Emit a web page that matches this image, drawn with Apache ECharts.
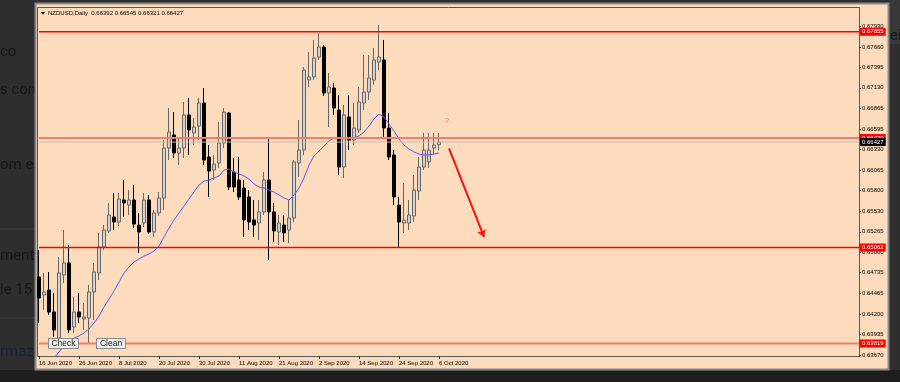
<!DOCTYPE html>
<html><head><meta charset="utf-8">
<script src="https://cdn.jsdelivr.net/npm/echarts@6/dist/echarts.min.js"></script>
<style>html,body{margin:0;padding:0;background:#2e2e2e;}#c{width:900px;height:382px;}</style>
</head><body><div id="c"></div>
<script>
const categories = [
"16 Jun 2020","17 Jun 2020","18 Jun 2020","19 Jun 2020","22 Jun 2020","23 Jun 2020","24 Jun 2020","25 Jun 2020","26 Jun 2020","29 Jun 2020","30 Jun 2020",
"1 Jul 2020","2 Jul 2020","3 Jul 2020","6 Jul 2020","7 Jul 2020","8 Jul 2020","9 Jul 2020","10 Jul 2020","13 Jul 2020","14 Jul 2020","15 Jul 2020","16 Jul 2020","17 Jul 2020","20 Jul 2020","21 Jul 2020","22 Jul 2020","23 Jul 2020","24 Jul 2020","27 Jul 2020","28 Jul 2020","29 Jul 2020","30 Jul 2020","31 Jul 2020",
"3 Aug 2020","4 Aug 2020","5 Aug 2020","6 Aug 2020","7 Aug 2020","10 Aug 2020","11 Aug 2020","12 Aug 2020","13 Aug 2020","14 Aug 2020","17 Aug 2020","18 Aug 2020","19 Aug 2020","20 Aug 2020","21 Aug 2020","24 Aug 2020","25 Aug 2020","26 Aug 2020","27 Aug 2020","28 Aug 2020","31 Aug 2020",
"1 Sep 2020","2 Sep 2020","3 Sep 2020","4 Sep 2020","7 Sep 2020","8 Sep 2020","9 Sep 2020","10 Sep 2020","11 Sep 2020","14 Sep 2020","15 Sep 2020","16 Sep 2020","17 Sep 2020","18 Sep 2020","21 Sep 2020","22 Sep 2020","23 Sep 2020","24 Sep 2020","25 Sep 2020","28 Sep 2020","29 Sep 2020","30 Sep 2020",
"1 Oct 2020","2 Oct 2020","5 Oct 2020","6 Oct 2020"];

const openV = [
0.64680,0.64447,0.64512,0.64227,0.63890,0.64706,0.64861,0.64033,0.64227,0.64136,
0.64149,0.64486,0.64732,0.65068,0.65276,0.65457,0.65392,0.65677,0.65612,0.65677,
0.65353,0.65379,0.65677,0.65263,0.65509,0.65703,0.66350,0.66519,0.66285,0.66350,
0.66778,0.66544,0.66635,0.66933,0.66234,0.66065,0.66156,0.66415,0.66803,0.66039,
0.65936,0.65832,0.65716,0.65418,0.65379,0.65522,0.65936,0.65522,0.65263,0.65353,
0.65289,0.65444,0.66156,0.66324,0.67231,0.67270,0.67528,0.67658,0.67062,0.67127,
0.66842,0.66104,0.66752,0.66454,0.66583,0.66933,0.67075,0.67231,0.67464,0.67490,
0.66609,0.66260,0.65612,0.65379,0.65379,0.65470,0.65793,0.66104,0.66169,0.66350,
0.66392];
const closeV = [
0.64408,0.64486,0.64227,0.63994,0.64732,0.64861,0.63994,0.64227,0.64162,0.64162,
0.64486,0.64745,0.65068,0.65289,0.65483,0.65392,0.65690,0.65638,0.65677,0.65366,
0.65263,0.65677,0.65263,0.65509,0.65703,0.66350,0.66557,0.66285,0.66350,0.66778,
0.66583,0.66622,0.66933,0.66195,0.66052,0.66143,0.66415,0.66816,0.65845,0.65845,
0.65716,0.65418,0.65392,0.65353,0.65522,0.65936,0.65522,0.65276,0.65379,0.65250,
0.65444,0.66169,0.66324,0.67360,0.67270,0.67516,0.67658,0.67062,0.67140,0.66868,
0.66104,0.66778,0.66454,0.66609,0.66946,0.67075,0.67257,0.67490,0.67528,0.66609,
0.66234,0.65716,0.65392,0.65418,0.65483,0.65806,0.66104,0.66324,0.66324,0.66389,
0.66427];
const highV = [
0.65030,0.64732,0.64745,0.64473,0.64939,0.65289,0.65094,0.64421,0.64473,0.64343,
0.64576,0.64861,0.65250,0.65353,0.65638,0.65768,0.65768,0.65936,0.65806,0.65871,
0.65509,0.65768,0.65742,0.65547,0.65781,0.66454,0.66868,0.66816,0.66493,0.66946,
0.66998,0.66739,0.66998,0.67127,0.66389,0.66260,0.66687,0.66868,0.66816,0.66221,
0.66234,0.65936,0.65806,0.65677,0.65677,0.66039,0.66467,0.65638,0.65483,0.65483,
0.65677,0.66195,0.66713,0.67399,0.67593,0.67749,0.67839,0.67684,0.67321,0.67192,
0.67036,0.66907,0.67036,0.66933,0.67140,0.67554,0.67554,0.67645,0.67943,0.67749,
0.66803,0.66324,0.65716,0.65897,0.65677,0.66001,0.66234,0.66544,0.66544,0.66544,
0.66545];
const lowV = [
0.64084,0.64253,0.64188,0.63903,0.63825,0.64602,0.63955,0.63955,0.64084,0.63994,
0.63825,0.64123,0.64641,0.65030,0.65250,0.65289,0.65340,0.65457,0.65483,0.65314,
0.64991,0.65327,0.65237,0.65198,0.65470,0.65547,0.66195,0.66221,0.66130,0.66221,
0.66260,0.66389,0.66454,0.66130,0.65716,0.65936,0.66091,0.66350,0.65806,0.65781,
0.65677,0.65198,0.65289,0.65198,0.65159,0.65483,0.64900,0.65133,0.65094,0.65133,
0.65120,0.65392,0.65975,0.66260,0.67140,0.67231,0.67490,0.67024,0.66622,0.66778,
0.66001,0.65962,0.66324,0.66389,0.66544,0.66842,0.66972,0.67166,0.67360,0.66480,
0.66195,0.65612,0.65065,0.65250,0.65289,0.65392,0.65677,0.66065,0.66091,0.66260,
0.66321];
const maV = [
null,null,null,0.63631,0.63709,0.63787,0.63851,0.63890,0.63916,0.63955,
0.64007,0.64084,0.64175,0.64292,0.64395,0.64499,0.64615,0.64732,0.64809,0.64874,
0.64913,0.64952,0.64978,0.65017,0.65081,0.65198,0.65314,0.65418,0.65509,0.65599,
0.65690,0.65781,0.65871,0.65923,0.65936,0.65962,0.65988,0.66065,0.66078,0.66039,
0.66014,0.65988,0.65949,0.65884,0.65845,0.65832,0.65806,0.65781,0.65742,0.65703,
0.65677,0.65742,0.65832,0.65962,0.66130,0.66247,0.66311,0.66376,0.66441,0.66480,
0.66480,0.66480,0.66480,0.66480,0.66506,0.66557,0.66635,0.66726,0.66790,0.66752,
0.66661,0.66570,0.66467,0.66389,0.66337,0.66298,0.66273,0.66260,0.66260,0.66273,
0.66285];
const priceTicks = ["0.63670","0.63935","0.64200","0.64465","0.64735","0.65000","0.65265","0.65530","0.65800","0.66065","0.66330","0.66595","0.66865","0.67130","0.67395","0.67660","0.67930"];
const dateTicks = ["16 Jun 2020","26 Jun 2020","8 Jul 2020","20 Jul 2020","30 Jul 2020","11 Aug 2020","21 Aug 2020","2 Sep 2020","14 Sep 2020","24 Sep 2020","6 Oct 2020"];
const redLevels = [0.67855, 0.65062];
const salmonLevels = [0.66479, 0.63819];
const bidPrice = 0.66427;
const titleText = "NZDUSD,Daily  0.66392 0.66545 0.66321 0.66427";
const arrowFrom = [82, 0.66346];
const arrowTo = [89, 0.65198];
const questionAt = [82, 0.66700];
const futureSlots = 84;

const allCats = categories.concat(new Array(futureSlots).fill(''));
const lastIdx = allCats.length - 1;
const candleData = openV.map((o, i) => [o, closeV[i], lowV[i], highV[i]]);
const tickVals = priceTicks.map(Number);
const font = 'Liberation Sans';

function levelSeries(value, color, width, labelBg, z) {
  return {
    type: 'line', data: [[0, value], [lastIdx, value]], z: z, silent: true, clip: false,
    showSymbol: false, symbol: 'none',
    lineStyle: { color: color, width: width, type: 'solid', opacity: 1 },
    itemStyle: { color: color },
    endLabel: { show: true, distance: 1, formatter: p => Number(p.value[1]).toFixed(5),
      backgroundColor: labelBg, color: '#ffffff', fontSize: 6, fontFamily: font, padding: [1, 2, 1, 2] }
  };
}
const levelSeriesList = [];
redLevels.forEach(v => levelSeriesList.push(levelSeries(v, '#ff0000', 1.5, '#ff0000', 4)));
salmonLevels.forEach(v => levelSeriesList.push(levelSeries(v, '#f47c6c', 2, '#ff0000', 4)));
levelSeriesList.push(levelSeries(bidPrice, '#c4c0b8', 1, '#000000', 5));

const chart = echarts.init(document.getElementById('c'), null, { renderer: 'canvas' });
chart.setOption({
  animation: false,
  backgroundColor: '#2e2e2e',
  grid: { left: 39, right: 41, top: 8, bottom: 26, containLabel: false },
  xAxis: {
    type: 'category', data: allCats, boundaryGap: false,
    axisLine: { show: true, onZero: false, lineStyle: { color: '#5a5a50', width: 1 } },
    axisTick: { show: true, length: 3, interval: (i, v) => dateTicks.includes(v), lineStyle: { color: '#333' } },
    axisLabel: { show: true, interval: (i, v) => dateTicks.includes(v), align: 'left', margin: 4,
      fontSize: 6, fontFamily: font, color: '#000' },
    splitLine: { show: false }
  },
  yAxis: {
    type: 'value', position: 'right', min: 0.63657, max: 0.68163, scale: true,
    axisLine: { show: true, onZero: false, lineStyle: { color: '#5a5a50', width: 1 } },
    axisTick: { show: true, length: 2, customValues: tickVals, lineStyle: { color: '#333' } },
    axisLabel: { show: true, customValues: tickVals, margin: 3, fontSize: 6, fontFamily: font, color: '#000',
      formatter: v => priceTicks.find(t => Math.abs(+t - v) < 1e-7) || v.toFixed(5) },
    splitLine: { show: false }
  },
  graphic: [
    { type: 'rect', shape: { x: 0, y: 370, width: 900, height: 12 }, style: { fill: '#1e1e1e' }, z: -5 },
    { type: 'rect', shape: { x: 889, y: 0, width: 11, height: 44 }, style: { fill: '#383838' }, z: -5 },
    { type: 'line', shape: { x1: 0, y1: 229, x2: 36, y2: 229 }, style: { stroke: '#3c3c3c', lineWidth: 1 }, z: -4 },
    { type: 'line', shape: { x1: 0, y1: 318, x2: 36, y2: 318 }, style: { stroke: '#3c3c3c', lineWidth: 1 }, z: -4 },
    { type: 'text', x: 0, y: 52, style: { text: 'co', fill: '#151515', font: '15px Roboto', verticalAlign: 'middle' }, z: -3 },
    { type: 'text', x: 0, y: 90, style: { text: 's comi', fill: '#151515', font: '15px Roboto', verticalAlign: 'middle' }, z: -3 },
    { type: 'text', x: 0, y: 165, style: { text: 'om est', fill: '#151515', font: '15px Roboto', verticalAlign: 'middle' }, z: -3 },
    { type: 'text', x: 0, y: 256, style: { text: 'mento', fill: '#151515', font: '15px Roboto', verticalAlign: 'middle' }, z: -3 },
    { type: 'text', x: 0, y: 290, style: { text: 'le 15 G', fill: '#151515', font: '15px Roboto', verticalAlign: 'middle' }, z: -3 },
    { type: 'text', x: 0, y: 352, style: { text: 'rmazé', fill: '#16203a', font: '15px Roboto', verticalAlign: 'middle' }, z: -3 },
    { type: 'text', x: 890, y: 36, style: { text: 'ei', fill: '#151515', font: '15px Roboto', verticalAlign: 'middle' }, z: -3 },
    { type: 'rect', shape: { x: 35.5, y: 3.5, width: 853, height: 366 }, style: { fill: '#fddcbd', stroke: '#8a8a8a', lineWidth: 2 }, z: -2 },
    { type: 'rect', shape: { x: 37.5, y: 7.5, width: 822, height: 349 }, style: { fill: 'none', stroke: '#5a5a50', lineWidth: 1 }, z: -1 },
    { type: 'polygon', shape: { points: [[41, 12], [45, 12], [43, 14.5]] }, style: { fill: '#000' }, z: 50 },
    { type: 'text', x: 48, y: 13.5, style: { text: titleText, fill: '#000', font: '6px "Liberation Sans"', verticalAlign: 'middle' }, z: 50 },
    { type: 'rect', shape: { x: 48.5, y: 338.5, width: 30, height: 10 }, style: { fill: '#eeeeee', stroke: '#8c8c8c', lineWidth: 1 }, z: 100 },
    { type: 'text', x: 63.5, y: 344, style: { text: 'Check', fill: '#1a1a1a', font: '8.5px "Liberation Sans"', align: 'center', verticalAlign: 'middle' }, z: 101 },
    { type: 'rect', shape: { x: 96.5, y: 338.5, width: 29, height: 10 }, style: { fill: '#eeeeee', stroke: '#8c8c8c', lineWidth: 1 }, z: 100 },
    { type: 'text', x: 111, y: 344, style: { text: 'Clean', fill: '#1a1a1a', font: '8.5px "Liberation Sans"', align: 'center', verticalAlign: 'middle' }, z: 101 }
  ],
  series: [
    {
      type: 'candlestick', data: candleData, barWidth: 4, clip: false,
      itemStyle: { color: '#d2d2d2', color0: '#000000', borderColor: '#666666', borderColor0: '#000000', borderWidth: 1 }
    },
    {
      type: 'line', data: maV, showSymbol: false, symbol: 'none', smooth: false, clip: true,
      lineStyle: { color: '#5a5af0', width: 1 }, z: 3,
      markLine: { silent: true, precision: 5, symbol: ['none', 'arrow'], symbolSize: 7, animation: false,
        lineStyle: { color: '#ff1010', width: 2, type: 'solid' }, label: { show: false },
        data: [[ { coord: arrowFrom }, { coord: arrowTo } ]] },
      markPoint: { silent: true, animation: false, data: [
        { coord: questionAt, symbol: 'circle', symbolSize: 0, label: { show: true, formatter: '?', color: '#f26a5a', fontSize: 8, fontFamily: font, offset: [-2, 0] } }
      ] }
    }
  ].concat(levelSeriesList)
});
</script></body></html>
